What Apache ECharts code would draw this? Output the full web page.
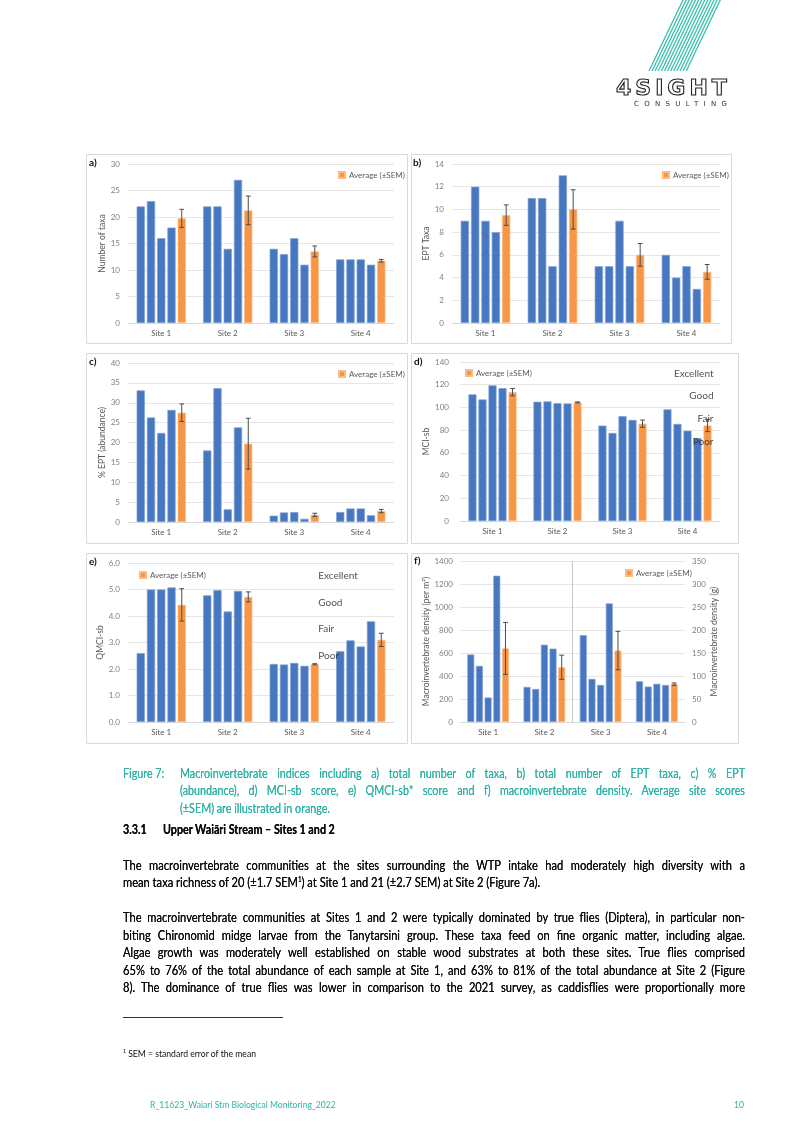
<!DOCTYPE html>
<html>
<head>
<meta charset="utf-8">
<script src="https://cdn.jsdelivr.net/npm/echarts/dist/echarts.min.js"></script>
<style>
  html, body { margin:0; padding:0; background:#fff; }
  body { width:807px; height:1140px; position:relative; overflow:hidden; font-family: Lato, 'Open Sans', sans-serif; }
  #chart { position:absolute; left:0; top:0; width:807px; height:1140px; }
  .t { position:absolute; white-space:nowrap; transform-origin:0 0; transform:scaleX(0.86); font-size:12.5px; line-height:17px; color:#0d0d0d; text-shadow:0 0 0.35px #000; }
  .p { transform:scaleX(0.89); }
  .cap { color:#2fb3a4; text-shadow:0 0 0.3px #2fb3a4; }
  .sm { font-size:10px; text-shadow:none; }
  .b { font-weight:bold; }
  #logo4 { position:absolute; left:616px; top:76px; font-family:'DejaVu Sans', sans-serif; font-size:22px; font-weight:bold; letter-spacing:4px; color:#fff; -webkit-text-stroke:1.1px #222; line-height:24px; }
  #logoC { position:absolute; left:634px; top:100px; font-family:'DejaVu Sans', sans-serif; font-size:7px; letter-spacing:5.3px; color:#333; line-height:9px; }
</style>
</head>
<body>
<div id="chart"></div>

<svg id="stripes" style="position:absolute;left:600px;top:0;" width="150" height="80"></svg>
<div id="logo4">4SIGHT</div>
<div id="logoC">CONSULTING</div>

<div class="t cap" style="left:123px;top:765px;">Figure 7:</div>
<div class="t cap j" data-w="565" style="left:180px;top:765px;">Macroinvertebrate indices including a) total number of taxa, b) total number of EPT taxa, c) % EPT</div>
<div class="t cap j" data-w="565" style="left:180px;top:782px;">(abundance), d) MCI-sb score, e) QMCI-sb* score and f) macroinvertebrate density. Average site scores</div>
<div class="t cap" style="left:180px;top:800px;">(±SEM) are illustrated in orange.</div>

<div class="t b" style="left:123px;top:821px;">3.3.1</div>
<div class="t b" style="left:163px;top:821px;">Upper Waiāri Stream – Sites 1 and 2</div>

<div class="t p j" data-w="622" style="left:123px;top:857px;">The macroinvertebrate communities at the sites surrounding the WTP intake had moderately high diversity with a</div>
<div class="t p" style="left:123px;top:874px;">mean taxa richness of 20 (±1.7 SEM<sup style="font-size:7px;line-height:0">1</sup>) at Site 1 and 21 (±2.7 SEM) at Site 2 (Figure 7a).</div>

<div class="t p j" data-w="622" style="left:123px;top:909px;">The macroinvertebrate communities at Sites 1 and 2 were typically dominated by true flies (Diptera), in particular non-</div>
<div class="t p j" data-w="622" style="left:123px;top:927px;">biting Chironomid midge larvae from the Tanytarsini group. These taxa feed on fine organic matter, including algae.</div>
<div class="t p j" data-w="622" style="left:123px;top:944px;">Algae growth was moderately well established on stable wood substrates at both these sites. True flies comprised</div>
<div class="t p j" data-w="622" style="left:123px;top:962px;">65% to 76% of the total abundance of each sample at Site 1, and 63% to 81% of the total abundance at Site 2 (Figure</div>
<div class="t p j" data-w="622" style="left:123px;top:979px;">8). The dominance of true flies was lower in comparison to the 2021 survey, as caddisflies were proportionally more</div>

<div style="position:absolute;left:123px;top:1017px;width:160px;height:1px;background:#333;"></div>
<div class="t sm" style="left:123px;top:1045px;"><sup style="font-size:6px;line-height:0">1</sup> SEM = standard error of the mean</div>

<div class="t cap sm" style="left:150px;top:1096px;">R_11623_Waiari Stm Biological Monitoring_2022</div>
<div class="t cap sm" style="left:734px;top:1096px;">10</div>

<script>
// ---------------- data ----------------
const sites = ['Site 1', 'Site 2', 'Site 3', 'Site 4'];
const avgName = 'Average (±SEM)';

// a) total number of taxa (4 replicate samples per site)
const taxaSamples = [[22, 23, 16, 18], [22, 22, 14, 27], [14, 13, 16, 11], [12, 12, 12, 11]];
const taxaAvg = [19.75, 21.25, 13.5, 11.75];
const taxaSem = [1.7, 2.7, 1.04, 0.25];
const taxaAxis = [0, 30, 5];

// b) EPT taxa
const eptSamples = [[9, 12, 9, 8], [11, 11, 5, 13], [5, 5, 9, 5], [6, 4, 5, 3]];
const eptAvg = [9.5, 10, 6, 4.5];
const eptSem = [0.9, 1.73, 1.0, 0.65];
const eptAxis = [0, 14, 2];

// c) % EPT (abundance)
const pctSamples = [[33.1, 26.3, 22.4, 28.2], [18.0, 33.7, 3.2, 23.8], [1.6, 2.4, 2.5, 0.8], [2.5, 3.4, 3.4, 1.7]];
const pctAvg = [27.5, 19.7, 1.8, 2.75];
const pctSem = [2.2, 6.4, 0.4, 0.42];
const pctAxis = [0, 40, 5];

// d) MCI-sb
const mciSamples = [[111.5, 107, 119.5, 117], [105, 105.3, 103.8, 103.5], [84, 77.5, 92.3, 89], [98.3, 85.5, 79.5, 73]];
const mciAvg = [113.5, 104.4, 85.7, 84.1];
const mciSem = [3.2, 0.45, 3.2, 5.4];
const mciAxis = [0, 140, 20];
const mciBands = ['Excellent', 'Good', 'Fair', 'Poor'];
const mciBandY = [130, 110, 90, 70];

// e) QMCI-sb
const qmciSamples = [[2.6, 5.0, 5.0, 5.08], [4.78, 4.98, 4.17, 4.95], [2.19, 2.17, 2.23, 2.12], [2.67, 3.08, 2.85, 3.8]];
const qmciAvg = [4.42, 4.72, 2.18, 3.1];
const qmciSem = [0.61, 0.19, 0.02, 0.25];
const qmciAxis = [0, 6, 1];
const qmciBands = ['Excellent', 'Good', 'Fair', 'Poor'];
const qmciBandY = [5.5, 4.5, 3.5, 2.5];

// f) macroinvertebrate density
const densSamples = [[587, 488, 213, 1272], [305, 287, 672, 638], [755, 375, 322, 1031], [354, 308, 332, 322]];
const densAvg = [640, 476, 621, 329];
const densSem = [226, 105, 167, 10];
const densAxis = [0, 1400, 200];
const densGAxis = [0, 350, 50];

// ---------------- style ----------------
const FONT = 'Lato, "Open Sans", sans-serif';
const BLUE = '#4677c0';
const BLUE_EDGE = '#7fa2d6';
const ORANGE = '#f79646';
const ORANGE_EDGE = '#fbbb85';
const CAT_GAP = 0.26, BAR_GAP = 0.25;

const panels = [
  { title: 'a)', titlePos: [89, 158], box: [86, 154, 321, 189], grid: { left: 128, top: 164, width: 266, height: 159 },
    samples: taxaSamples, avg: taxaAvg, sem: taxaSem, axis: taxaAxis, dec: 0,
    yName: 'Number of taxa', nameGap: 19, labelMargin: 8, legend: [338, 171] },
  { title: 'b)', titlePos: [413, 158], box: [411, 154, 320, 189], grid: { left: 452, top: 164, width: 268, height: 159 },
    samples: eptSamples, avg: eptAvg, sem: eptSem, axis: eptAxis, dec: 0,
    yName: 'EPT Taxa', nameGap: 18, labelMargin: 8, legend: [662, 171] },
  { title: 'c)', titlePos: [89, 357], box: [86, 353, 321, 190], grid: { left: 128, top: 363, width: 266, height: 159 },
    samples: pctSamples, avg: pctAvg, sem: pctSem, axis: pctAxis, dec: 0,
    yName: '% EPT (abundance)', nameGap: 19, labelMargin: 8, legend: [338, 370] },
  { title: 'd)', titlePos: [414, 357], box: [411, 353, 327, 190], grid: { left: 460, top: 362, width: 260, height: 159 },
    samples: mciSamples, avg: mciAvg, sem: mciSem, axis: mciAxis, dec: 0,
    yName: 'MCI-sb', nameGap: 26, labelMargin: 11, legend: [465, 369],
    bands: mciBands, bandY: mciBandY, bandAt: 3, bandAlign: 'right', bandOffset: 26 },
  { title: 'e)', titlePos: [89, 557], box: [86, 553, 321, 190], grid: { left: 128, top: 563, width: 266, height: 159 },
    samples: qmciSamples, avg: qmciAvg, sem: qmciSem, axis: qmciAxis, dec: 1,
    yName: 'QMCI-sb', nameGap: 22, labelMargin: 8, legend: [139, 571],
    bands: qmciBands, bandY: qmciBandY, bandAt: 2, bandAlign: 'left', bandOffset: 24 },
  { title: 'f)', titlePos: [414, 556], box: [411, 553, 327, 190], grid: { left: 460, top: 561, width: 225, height: 161 },
    samples: densSamples, avg: densAvg, sem: densSem, axis: densAxis, dec: 0,
    yName: 'Macroinvertebrate density (per m²)', nameGap: 26, labelMargin: 7, legend: [625, 569],
    boundary: 2,
    right: { axis: densGAxis, name: 'Macroinvertebrate density (g)', nameGap: 22, labelMargin: 7 } }
];

function errRender(params, api) {
  const i = api.value(0);
  const lo = api.coord([i, api.value(1)]);
  const hi = api.coord([i, api.value(2)]);
  const cw = api.size([1, 0])[0];
  const total = cw * (1 - CAT_GAP);
  const bw = total / (5 + 4 * BAR_GAP);
  const x = lo[0] + total / 2 - bw / 2;
  const c = 2.4;
  const st = { stroke: '#4d4d4d', lineWidth: 1 };
  return { type: 'group', children: [
    { type: 'line', shape: { x1: x, y1: lo[1], x2: x, y2: hi[1] }, style: st },
    { type: 'line', shape: { x1: x - c, y1: lo[1], x2: x + c, y2: lo[1] }, style: st },
    { type: 'line', shape: { x1: x - c, y1: hi[1], x2: x + c, y2: hi[1] }, style: st }
  ] };
}

const option = { animation: false, textStyle: { fontFamily: FONT }, title: [], legend: [], grid: [], xAxis: [], yAxis: [], series: [], graphic: [] };
const boundaryLines = [];

panels.forEach((p, gi) => {
  option.graphic.push({ type: 'rect', silent: true, z: -10,
    shape: { x: p.box[0] + 0.5, y: p.box[1] + 0.5, width: p.box[2], height: p.box[3] },
    style: { fill: '#fff', stroke: '#d9d9d9', lineWidth: 1 } });
  option.title.push({ text: p.title, left: p.titlePos[0], top: p.titlePos[1], padding: 0,
    textStyle: { fontSize: 10, fontWeight: 'bold', color: '#111', fontFamily: FONT } });
  option.grid.push(Object.assign({}, p.grid));
  option.xAxis.push({ type: 'category', gridIndex: gi, data: sites,
    axisLine: { lineStyle: { color: '#d9d9d9' } }, axisTick: { show: false },
    axisLabel: { color: '#595959', fontSize: 8, margin: 6, fontFamily: FONT },
    splitLine: { show: false } });
  const yi = option.yAxis.length;
  const fmt = (v) => v.toFixed(p.dec);
  option.yAxis.push({ type: 'value', gridIndex: gi, min: p.axis[0], max: p.axis[1], interval: p.axis[2],
    name: p.yName, nameLocation: 'middle', nameGap: p.nameGap, nameRotate: 90,
    nameTextStyle: { fontSize: 8.5, color: '#595959', fontFamily: FONT },
    axisLabel: { color: '#7f7f7f', fontSize: 8, margin: p.labelMargin, formatter: fmt, fontFamily: FONT },
    axisLine: { show: false }, axisTick: { show: false },
    splitLine: { lineStyle: { color: '#e6e6e6', width: 1 } } });
  if (p.right) {
    option.yAxis.push({ type: 'value', gridIndex: gi, position: 'right', min: p.right.axis[0], max: p.right.axis[1], interval: p.right.axis[2],
      name: p.right.name, nameLocation: 'middle', nameGap: p.right.nameGap, nameRotate: 90,
      nameTextStyle: { fontSize: 8.5, color: '#595959', fontFamily: FONT },
      axisLabel: { color: '#7f7f7f', fontSize: 8, margin: p.right.labelMargin, fontFamily: FONT },
      axisLine: { show: false }, axisTick: { show: false }, splitLine: { show: false } });
  }
  if (p.boundary != null) boundaryLines.push({ gi: gi, yi: yi, at: p.boundary });
  for (let k = 0; k < 4; k++) {
    option.series.push({ type: 'bar', name: 'Sample ' + (k + 1), xAxisIndex: gi, yAxisIndex: yi,
      data: p.samples.map(s => s[k]), barGap: (BAR_GAP * 100) + '%', barCategoryGap: (CAT_GAP * 100) + '%',
      itemStyle: { color: BLUE, borderColor: BLUE_EDGE, borderWidth: 0.7 } });
  }
  option.series.push({ type: 'bar', name: avgName, xAxisIndex: gi, yAxisIndex: yi, data: p.avg,
    barGap: (BAR_GAP * 100) + '%', barCategoryGap: (CAT_GAP * 100) + '%',
    itemStyle: { color: ORANGE, borderColor: ORANGE_EDGE, borderWidth: 0.7 } });
  option.series.push({ type: 'custom', name: 'SEM ' + gi, xAxisIndex: gi, yAxisIndex: yi, z: 5,
    renderItem: errRender, data: p.avg.map((a, i) => [i, a - p.sem[i], a + p.sem[i]]) });
  if (p.bands) {
    option.series.push({ type: 'scatter', name: 'bands ' + gi, xAxisIndex: gi, yAxisIndex: yi, z: 6,
      symbolSize: 0, silent: true,
      label: { show: true, position: 'inside', align: p.bandAlign, verticalAlign: 'middle',
        offset: [p.bandOffset, 0], color: '#262626', fontSize: 10, fontFamily: FONT, formatter: '{b}' },
      data: p.bands.map((b, j) => ({ name: b, value: [p.bandAt, p.bandY[j]] })) });
  }
  option.legend.push({ data: [avgName], left: p.legend[0], top: p.legend[1], padding: 0,
    icon: 'rect', itemWidth: 6, itemHeight: 6, itemGap: 4, selectedMode: false,
    textStyle: { fontSize: 8, color: '#595959', fontFamily: FONT, padding: [0, 0, 0, -1] } });
});

// vertical divider between site groups (hidden value x axis spanning the category band: 0..n)
boundaryLines.forEach(b => {
  const xi = option.xAxis.length;
  option.xAxis.push({ type: 'value', gridIndex: b.gi, min: 0, max: sites.length, show: false });
  option.series.push({ type: 'line', name: 'divider ' + b.gi, xAxisIndex: xi, yAxisIndex: b.yi,
    data: [[0, 0]], showSymbol: false, silent: true, lineStyle: { opacity: 0 }, z: 1,
    markLine: { symbol: 'none', silent: true, animation: false, label: { show: false },
      lineStyle: { color: '#c8c8c8', type: 'solid', width: 1 }, data: [{ xAxis: b.at }] } });
});

const chart = echarts.init(document.getElementById('chart'), null, { renderer: 'canvas' });
chart.setOption(option);

// justify single text lines exactly to their target width via word spacing
document.querySelectorAll('.j').forEach(el => {
  const target = parseFloat(el.dataset.w);
  const scale = el.getBoundingClientRect().width / el.offsetWidth;
  const natural = el.offsetWidth;
  const spaces = (el.textContent.match(/ /g) || []).length;
  if (spaces > 0) el.style.wordSpacing = ((target / scale - natural) / spaces) + 'px';
});

// logo stripes
const svg = document.getElementById('stripes');
let s = '';
for (let k = 0; k < 13; k++) {
  const x0 = 49 + k * 3.1;
  s += '<line x1="' + x0 + '" y1="71" x2="' + (x0 + 35) + '" y2="-2" stroke="#38bfae" stroke-width="1.3"/>';
}
svg.innerHTML = s;
</script>
</body>
</html>
